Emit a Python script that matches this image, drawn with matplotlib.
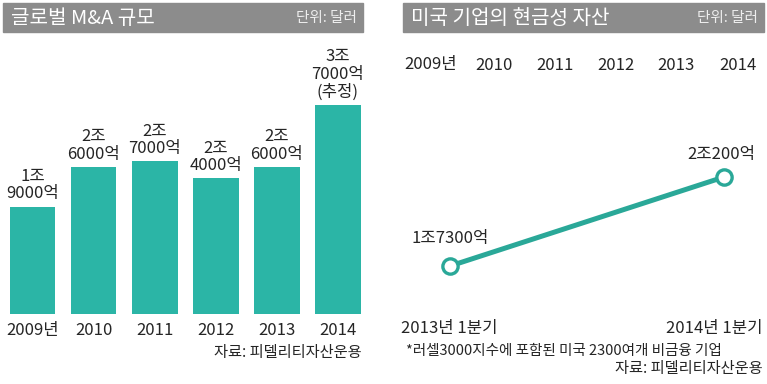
import matplotlib.pyplot as plt
from matplotlib.patches import Rectangle

plt.rcParams['font.family'] = ['Liberation Sans Narrow', 'Noto Sans CJK KR', 'DejaVu Sans']
plt.rcParams['font.weight'] = 'medium'

# left panel data: global M&A (조 달러)
years = ['2009년', '2010', '2011', '2012', '2013', '2014']
ma_values = [1.9, 2.6, 2.7, 2.4, 2.6, 3.7]
ma_labels = ['1조\n9000억', '2조\n6000억', '2조\n7000억', '2조\n4000억', '2조\n6000억',
             '3조\n7000억\n(추정)']

# right panel data: US corporate cash
cash_periods = ['2013년 1분기', '2014년 1분기']
cash_values = [1.73, 2.02]
cash_labels = ['1조7300억', '2조200억']

W, H = 767, 384
teal = '#2bb5a6'
line_teal = '#2aa898'
header_gray = '#8c8c8c'
text_col = '#252525'

fig = plt.figure(figsize=(W / 100, H / 100), dpi=100)


def px(x0, y0, x1, y1):
    # pixel box (top-left origin) -> figure fraction rect
    return [x0 / W, 1 - y1 / H, (x1 - x0) / W, (y1 - y0) / H]


def header(x0, x1, title):
    fig.patches.append(Rectangle((x0 / W, 1 - 32 / H), (x1 - x0) / W, 29 / H,
                                 transform=fig.transFigure, color=header_gray, zorder=0))
    fig.text((x0 + 8) / W, 1 - 18 / H, title, color='white', fontsize=14.5,
             ha='left', va='center', family=['Noto Sans CJK KR'], weight='medium')
    fig.text((x1 - 6) / W, 1 - 18 / H, '단위: 달러', color='#eeeeee', fontsize=10.5,
             ha='right', va='center', family=['Noto Sans CJK KR'])


header(3, 363, '글로벌 M&A 규모')
header(403, 764, '미국 기업의 현금성 자산')

# ---- bar chart
ax1 = fig.add_axes(px(3, 88, 363, 314))
x = range(len(years))
ax1.bar(x, ma_values, width=0.74, color=teal)
ax1.set_xlim(-0.49, 5.41)
ax1.set_ylim(0, 4.0)
for i, (v, lab) in enumerate(zip(ma_values, ma_labels)):
    ax1.annotate(lab, (i, v), xytext=(0, 3), textcoords='offset points',
                 ha='center', va='bottom', fontsize=12, color=text_col, linespacing=1.05)
ax1.set_xticks(list(x))
ax1.set_xticklabels(years, fontsize=12, color=text_col)
ax1.tick_params(axis='x', length=0, pad=6)
ax1.set_yticks([])
for s in ax1.spines.values():
    s.set_visible(False)
ax1.patch.set_alpha(0)
fig.text(362 / W, 1 - 352 / H, '자료: 피델리티자산운용', ha='right', va='center',
         fontsize=11, color=text_col)

# ---- line chart
ax2 = fig.add_axes(px(403, 100, 764, 314))
ax2.plot([0, 1], cash_values, color=line_teal, lw=3.6, zorder=2)
ax2.plot([0, 1], cash_values, 'o', ms=11, mfc='white', mec=line_teal, mew=2.4, zorder=3)
ax2.set_xlim(-0.1715, 1.146)
ax2.set_ylim(1.5736, 2.271)
ax2.annotate(cash_labels[0], (0, cash_values[0]), xytext=(0, 14), textcoords='offset points',
             ha='center', va='bottom', fontsize=12, color=text_col)
ax2.annotate(cash_labels[1], (1, cash_values[1]), xytext=(-2, 10), textcoords='offset points',
             ha='center', va='bottom', fontsize=12, color=text_col)
ax2.axis('off')

# timeline years across the top of the right panel
year_x = [431, 494, 555, 616, 676, 738]
for xx, yr in zip(year_x, years):
    fig.text(xx / W, 1 - 65 / H, yr, ha='center', va='center', fontsize=12, color=text_col)

fig.text(449 / W, 1 - 328 / H, cash_periods[0], ha='center', va='center',
         fontsize=12, color=text_col)
fig.text(763 / W, 1 - 328 / H, cash_periods[1], ha='right', va='center',
         fontsize=12, color=text_col)
fig.text(406 / W, 1 - 351 / H, '*러셀3000지수에 포함된 미국 2300여개 비금융 기업',
         ha='left', va='center', fontsize=10.5, color=text_col)
fig.text(763 / W, 1 - 369 / H, '자료: 피델리티자산운용', ha='right', va='center',
         fontsize=11, color=text_col)

fig.savefig('out.png', dpi=100, facecolor='white')
